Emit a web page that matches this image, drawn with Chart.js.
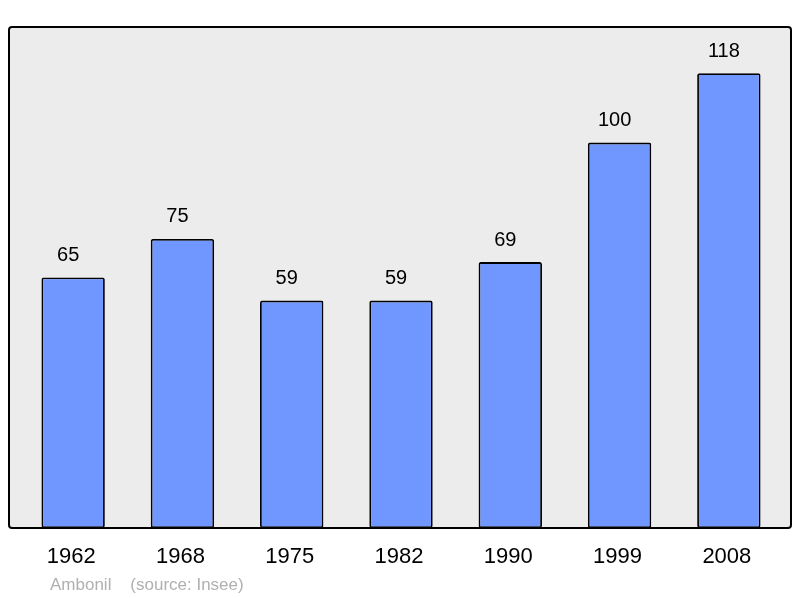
<!DOCTYPE html>
<html>
<head>
<meta charset="utf-8">
<script src="https://cdn.jsdelivr.net/npm/chart.js@4"></script>
<style>
  html, body { margin: 0; padding: 0; background: #fff; }
  #wrap { width: 800px; height: 598px; position: relative; }
</style>
</head>
<body>
<div id="wrap"><canvas id="result" width="800" height="598"></canvas></div>
<script>
const years = ['1962', '1968', '1975', '1982', '1990', '1999', '2008'];
const population = [65, 75, 59, 59, 69, 100, 118];
const yMax = 130;
const footerText = 'Ambonil    (source: Insee)';

// fond gris + cadre + libellés
const decor = {
    id: 'decor',
    beforeDatasetsDraw(chart) {
        const { ctx, chartArea } = chart;
        const left = 9, right = 791;
        ctx.save();
        ctx.fillStyle = '#ececec';
        ctx.beginPath();
        ctx.roundRect(left, chartArea.top, right - left, chartArea.bottom - chartArea.top, 3);
        ctx.fill();
        ctx.restore();
    },
    afterDatasetsDraw(chart) {
        const { ctx, chartArea, scales } = chart;
        const left = 9, right = 791;
        ctx.save();
        ctx.strokeStyle = '#000';
        ctx.lineWidth = 2;
        ctx.beginPath();
        ctx.roundRect(left, chartArea.top, right - left, chartArea.bottom - chartArea.top, 3);
        ctx.stroke();

        ctx.fillStyle = '#000';
        ctx.textAlign = 'center';
        ctx.textBaseline = 'middle';
        ctx.font = '20px "Liberation Sans", Arial, sans-serif';
        const meta = chart.getDatasetMeta(0);
        meta.data.forEach((bar, i) => {
            ctx.fillText(String(population[i]), bar.x - 5, bar.y - 22);
        });

        ctx.font = '22px "Liberation Sans", Arial, sans-serif';
        years.forEach((y, i) => {
            ctx.fillText(y, scales.x.getPixelForValue(i) - 2, 557);
        });

        ctx.fillStyle = '#b0b0b0';
        ctx.textAlign = 'left';
        ctx.font = '17px "Liberation Sans", Arial, sans-serif';
        ctx.fillText(footerText, 50, 585);
        ctx.restore();
    }
};

const ctx = document.getElementById('result').getContext('2d');
new Chart(ctx, {
    type: 'bar',
    data: {
        labels: years,
        datasets: [{
            data: population,
            backgroundColor: '#7097ff',
            borderColor: '#000',
            borderWidth: 1.8,
            borderRadius: 2,
            borderSkipped: false,
            barPercentage: 0.58,
            categoryPercentage: 1
        }]
    },
    options: {
        responsive: false,
        animation: false,
        devicePixelRatio: 1,
        layout: { padding: { left: 18.5, right: 16.5, top: 27, bottom: 70 } },
        scales: {
            x: { display: false },
            y: { display: false, min: 0, max: yMax }
        },
        plugins: {
            legend: { display: false },
            tooltip: { enabled: false }
        }
    },
    plugins: [decor]
});
</script>
</body>
</html>
